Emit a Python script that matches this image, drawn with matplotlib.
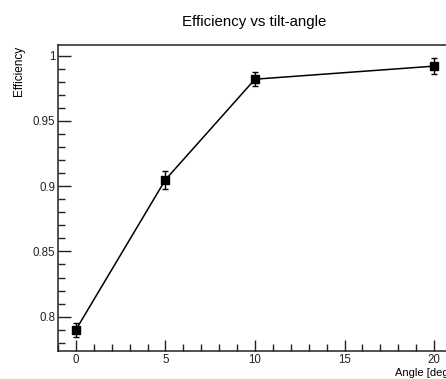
import numpy as np
import matplotlib
matplotlib.use("Agg")
import matplotlib.pyplot as plt
from matplotlib.ticker import MultipleLocator

# data
angle = [0, 5, 10, 20]
efficiency = [0.790, 0.905, 0.982, 0.992]
eff_err = [0.0054, 0.0070, 0.0052, 0.0060]

plt.rcParams["font.family"] = ["Liberation Sans", "DejaVu Sans"]

W, H = 446, 379
fig = plt.figure(figsize=(W / 100, H / 100), dpi=100)

# axes run past the right edge of the picture (cropped like the reference)
left, right, top, bottom = 58, 452, 45, 351
ax = fig.add_axes([left / W, 1 - bottom / H, (right - left) / W, (bottom - top) / H])

ax.errorbar(angle, efficiency, yerr=eff_err, fmt="s-", color="black",
            markersize=6, linewidth=1.1, elinewidth=1.0, capsize=2.2, capthick=1.0)

ax.set_xlim(-1, 21)
ax.set_ylim(0.7737, 1.0082)

ax.xaxis.set_major_locator(MultipleLocator(5))
ax.xaxis.set_minor_locator(MultipleLocator(1))
ax.yaxis.set_major_locator(MultipleLocator(0.05))
ax.yaxis.set_minor_locator(MultipleLocator(0.01))
ax.set_yticks([0.8, 0.85, 0.9, 0.95, 1.0])
ax.set_yticklabels(["0.8", "0.85", "0.9", "0.95", "1"])

ax.tick_params(which="both", direction="in", top=False, right=False,
               labelsize=8.3, colors="#222222", width=1.0)
ax.tick_params(axis="y", which="major", length=9, pad=2)
ax.tick_params(axis="y", which="minor", length=5)
ax.tick_params(axis="x", which="major", length=8, pad=2)
ax.tick_params(axis="x", which="minor", length=5)

for s in ax.spines.values():
    s.set_linewidth(1.1)
    s.set_color("#222222")

fig.text(254 / W, 1 - 22 / H, "Efficiency vs tilt-angle", ha="center",
         va="center", fontsize=10.8)
fig.text(19 / W, 1 - 46 / H, "Efficiency", rotation=90, ha="center",
         va="top", fontsize=8.5)
fig.text(452 / W, 1 - 373 / H, "Angle [deg]", ha="right", va="center",
         fontsize=8)

fig.savefig("out.png", dpi=100)
